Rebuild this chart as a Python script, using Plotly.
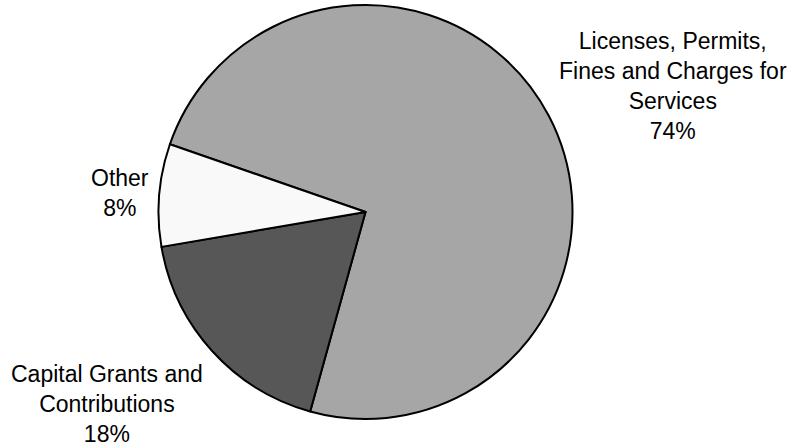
import plotly.graph_objects as go

labels = ["Licenses, Permits,<br>Fines and Charges for<br>Services", "Capital Grants and<br>Contributions", "Other"]
values = [74, 18, 8]
colors = ["#a6a6a6", "#575757", "#f9f9f9"]
label_pos = [(673, 86), (107, 404), (120, 193)]  # pixel centers of the label blocks

W, H = 795, 446
fig = go.Figure(go.Pie(
    labels=labels,
    values=values,
    sort=False,
    direction="clockwise",
    rotation=-70.9,
    textinfo="none",
    hoverinfo="label+percent",
    marker=dict(colors=colors, line=dict(color="black", width=2)),
    domain=dict(x=[158 / W, 573 / W], y=[(H - 419) / H, (H - 5) / H]),
    showlegend=False,
))

total = sum(values)
for lab, v, (px, py) in zip(labels, values, label_pos):
    fig.add_annotation(
        x=px / W, y=1 - py / H, xref="paper", yref="paper",
        text=f"{lab}<br>{round(100 * v / total)}%",
        showarrow=False, xanchor="center", yanchor="middle",
        font=dict(family="Liberation Sans, Arial, sans-serif", size=23, color="black"),
        align="center",
    )

fig.update_layout(
    width=W, height=H,
    margin=dict(l=0, r=0, t=0, b=0),
    paper_bgcolor="white", plot_bgcolor="white",
)
fig.write_html("out.html")
